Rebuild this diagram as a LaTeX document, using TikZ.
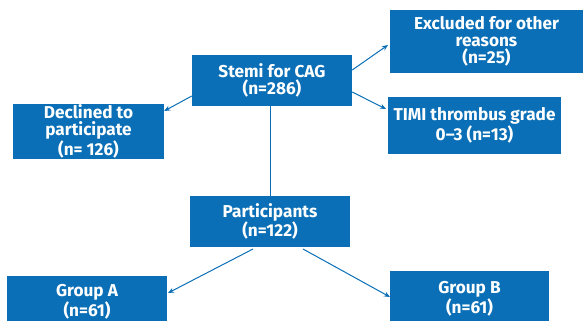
\documentclass[tikz,border=0pt]{standalone}
\usepackage{fontspec}
\setmainfont{Fira Sans}
\usetikzlibrary{arrows.meta}
\definecolor{boxblue}{HTML}{0A6FB6}
\tikzset{
  box/.style={fill=boxblue, text=white, font=\bfseries\fontsize{17.2}{17}\selectfont,
    align=center, inner sep=0pt, rectangle},
  conn/.style={draw=boxblue, line width=1pt},
  arr/.style={conn, -{Stealth[length=6pt,width=5pt]}}
}
\begin{document}
\begin{tikzpicture}[x=1pt,y=-1pt]
\clip (0,0) rectangle (584,321);
\useasboundingbox (0,0) rectangle (584,321);
\node[box, minimum width=160pt, minimum height=51pt] (stemi) at (272,80.5) {Stemi for CAG\\(n=286)};
\node[box, minimum width=151pt, minimum height=55pt] (decl) at (88.5,131.5) {Declined to\\participate\\(n= 126)};
\node[box, minimum width=193pt, minimum height=63pt] (excl) at (486.5,41.5) {Excluded for other\\reasons\\(n=25)};
\node[box, minimum width=173pt, minimum height=57pt] (timi) at (474.5,125.5) {TIMI thrombus grade\\0--3 (n=13)};
\node[box, minimum width=160pt, minimum height=51pt] (part) at (270,221.5) {Participants\\(n=122)};
\node[box, minimum width=160pt, minimum height=52pt] (ga) at (87,302) {Group A\\(n=61)};
\node[box, minimum width=159pt, minimum height=56pt] (gb) at (469.5,299) {Group B\\(n=61)};
\coordinate (s1) at (stemi.west |- 0,96);
\coordinate (d1) at (decl.east |- 0,111);
\draw[arr] (s1) -- (d1);
\coordinate (s2) at (stemi.east |- 0,70);
\coordinate (e1) at (388,45);
\draw[arr] (s2) -- (e1);
\coordinate (s3) at (stemi.east |- 0,92);
\coordinate (t1) at (386,109);
\draw[arr] (s3) -- (t1);
\draw[conn] (stemi.south -| 270,0) -- (part.north);
\coordinate (p1) at (253,249);
\coordinate (a1) at (168,293);
\draw[arr] (p1) -- (a1);
\coordinate (p2) at (303,249);
\coordinate (b1) at (390,297);
\draw[arr] (p2) -- (b1);
\end{tikzpicture}
\end{document}
